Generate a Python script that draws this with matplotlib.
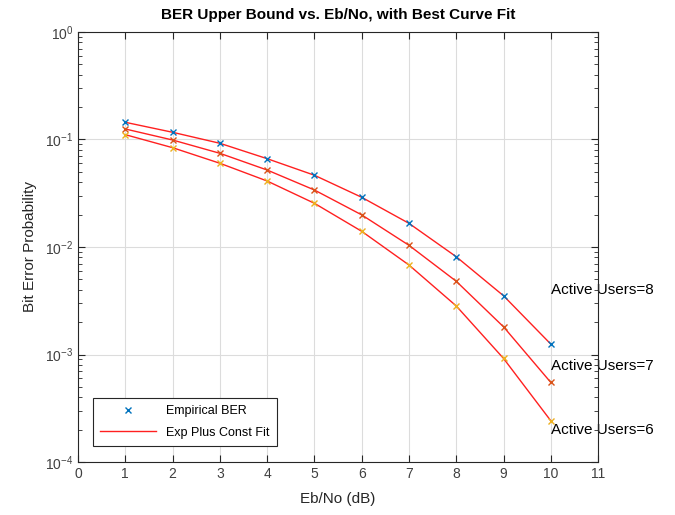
import matplotlib
matplotlib.use('Agg')
import matplotlib.pyplot as plt
import numpy as np

plt.rcParams['font.family'] = ['Liberation Sans', 'DejaVu Sans']

ebno = [1, 2, 3, 4, 5, 6, 7, 8, 9, 10]
users = [8, 7, 6]
ber_8 = [0.1445, 0.1167, 0.0922, 0.0663, 0.0465, 0.0290, 0.0166, 0.00812, 0.00352, 0.00125]
ber_7 = [0.1252, 0.0989, 0.0744, 0.0520, 0.0339, 0.0199, 0.01037, 0.0048, 0.00181, 0.00055]
ber_6 = [0.1109, 0.0839, 0.0601, 0.0411, 0.0255, 0.0140, 0.0068, 0.00283, 0.00092, 0.000242]
label_y = [0.0040, 0.00078, 0.00020]

marker_colors = ['#0072BD', '#D95319', '#EDB120']

fig = plt.figure(figsize=(6.75, 5.15), dpi=100)
ax = fig.add_axes([0.1156, 0.1029, 0.7704, 0.835])

for i, ber in enumerate([ber_8, ber_7, ber_6]):
    ax.plot(ebno, ber, color='#FF2020', linewidth=1.0, zorder=3,
            label='Exp Plus Const Fit' if i == 0 else None)
    ax.plot(ebno, ber, 'x', color=marker_colors[i], markersize=5, markeredgewidth=1.0,
            zorder=4, label='Empirical BER' if i == 0 else None)
    ax.text(10, label_y[i], f'Active Users={users[i]}', fontsize=11, ha='left',
            va='center', clip_on=False, zorder=2)

ax.set_yscale('log')
ax.set_xlim(0, 11)
ax.set_ylim(1e-4, 1e0)
ax.set_xticks(range(0, 12))
ax.grid(True, which='major', color='#dcdcdc', linewidth=0.8)
ax.set_axisbelow(True)
ax.tick_params(which='both', direction='in', top=True, right=True, labelsize=10,
               colors='#262626', labelcolor='#404040')
ax.tick_params(which='major', length=5)
ax.tick_params(which='minor', length=3)
for s in ax.spines.values():
    s.set_color('#262626')
    s.set_linewidth(0.8)
    s.set_zorder(5)

ax.set_xlabel('Eb/No (dB)', fontsize=11, color='#262626', labelpad=8)
ax.set_ylabel('Bit Error Probability', fontsize=11, color='#262626', labelpad=6)
ax.set_title('BER Upper Bound vs. Eb/No, with Best Curve Fit', fontsize=11,
             fontweight='bold', pad=9)

h, l = ax.get_legend_handles_labels()
leg = ax.legend([h[1], h[0]], [l[1], l[0]], loc='lower left', fontsize=9,
                bbox_to_anchor=(0.028, 0.037), borderaxespad=0, fancybox=False,
                edgecolor='#262626', framealpha=1, handlelength=4.5,
                labelspacing=0.75, borderpad=0.6)
leg.get_frame().set_linewidth(0.8)

fig.savefig('out.png', dpi=100)
